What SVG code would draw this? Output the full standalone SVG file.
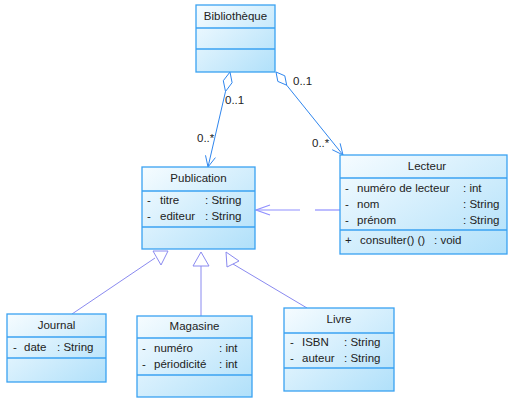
<svg xmlns="http://www.w3.org/2000/svg" width="508" height="398" viewBox="0 0 508 398">
<defs>
<linearGradient id="g" x1="0" y1="0" x2="1" y2="1">
<stop offset="0" stop-color="#f6fcff"/>
<stop offset="1" stop-color="#b0e0fa"/>
</linearGradient>
</defs>
<style>
.box{fill:url(#g);stroke:#3aa2f2;stroke-width:1.3}
.sep{stroke:#3aa2f2;stroke-width:1.3}
text{font-family:"Liberation Sans",Arial,sans-serif;font-size:11.5px;fill:#222}
.c{text-anchor:middle}
.agg{fill:none;stroke:#2f86ee;stroke-width:1}
.inh{fill:none;stroke:#8a8af0;stroke-width:1}
.dep{fill:none;stroke:#9090ff;stroke-width:1.2}
</style>
<rect width="508" height="398" fill="#fff"/>
<g id="connectors">
<!-- Bibliotheque to Publication -->
<polygon class="agg" points="230,72 232.1,82.7 225.5,91.5 223.3,80.7"/>
<line class="agg" x1="225.5" y1="91.5" x2="208" y2="167"/>
<polyline class="agg" points="215.4,157.6 208,167 205.5,155.3"/>
<!-- Bibliotheque to Lecteur -->
<polygon class="agg" points="276,72 284.8,75.8 286.7,85.2 277.8,81.4"/>
<line class="agg" x1="286.7" y1="85.2" x2="343" y2="155"/>
<polyline class="agg" points="340.1,143.3 343,155 332.2,149.7"/>
<!-- dependency -->
<line class="dep" x1="340" y1="210" x2="315" y2="210"/>
<line class="dep" x1="300" y1="210" x2="256" y2="210"/>
<polyline class="dep" points="270,205 256,210 270,215"/>
<!-- inheritance -->
<polygon class="inh" points="153,251 168,251 161,265"/>
<line class="inh" x1="72" y1="314" x2="155" y2="258"/>
<polygon class="inh" points="201,252 209,266 193,266"/>
<line class="inh" x1="201" y1="266" x2="201" y2="316"/>
<polygon class="inh" points="226,252 239,261 227,267"/>
<line class="inh" x1="233" y1="264" x2="307" y2="308"/>
<!-- multiplicities -->
<text x="225" y="104">0..1</text>
<text x="197" y="142">0..*</text>
<text x="293" y="85">0..1</text>
<text x="312" y="147">0..*</text>
</g>
<g id="Bibliotheque">
<rect class="box" x="196" y="5" width="79" height="67"/>
<line class="sep" x1="196" y1="28" x2="275" y2="28"/>
<line class="sep" x1="196" y1="49" x2="275" y2="49"/>
<text class="c" x="235.5" y="20">Bibliothèque</text>
</g>
<g id="Publication">
<rect class="box" x="142" y="167" width="113" height="82"/>
<line class="sep" x1="142" y1="191" x2="255" y2="191"/>
<line class="sep" x1="142" y1="227" x2="255" y2="227"/>
<text class="c" x="198.5" y="182">Publication</text>
<text x="147" y="204">-</text><text x="160" y="204">titre</text><text x="205" y="204">: String</text>
<text x="147" y="220">-</text><text x="160" y="220">editeur</text><text x="205" y="220">: String</text>
</g>
<g id="Lecteur">
<rect class="box" x="340" y="155" width="167" height="99"/>
<line class="sep" x1="340" y1="178" x2="507" y2="178"/>
<line class="sep" x1="340" y1="230" x2="507" y2="230"/>
<text class="c" x="427" y="170">Lecteur</text>
<text x="345" y="192">-</text><text x="357" y="192">numéro de lecteur</text><text x="463" y="192">: int</text>
<text x="345" y="208">-</text><text x="357" y="208">nom</text><text x="463" y="208">: String</text>
<text x="345" y="224">-</text><text x="357" y="224">prénom</text><text x="463" y="224">: String</text>
<text x="345" y="244">+</text><text x="360" y="244">consulter() ()</text><text x="434" y="244">: void</text>
</g>
<g id="Journal">
<rect class="box" x="7" y="314" width="99" height="68"/>
<line class="sep" x1="7" y1="337" x2="106" y2="337"/>
<line class="sep" x1="7" y1="358" x2="106" y2="358"/>
<text class="c" x="56.5" y="329">Journal</text>
<text x="13" y="351">-</text><text x="24" y="351">date</text><text x="57" y="351">: String</text>
</g>
<g id="Magasine">
<rect class="box" x="137" y="316" width="115" height="81"/>
<line class="sep" x1="137" y1="338" x2="252" y2="338"/>
<line class="sep" x1="137" y1="375" x2="252" y2="375"/>
<text class="c" x="194.5" y="330">Magasine</text>
<text x="142" y="352">-</text><text x="154" y="352">numéro</text><text x="219" y="352">: int</text>
<text x="142" y="368">-</text><text x="154" y="368">périodicité</text><text x="219" y="368">: int</text>
</g>
<g id="Livre">
<rect class="box" x="284" y="308" width="110" height="83"/>
<line class="sep" x1="284" y1="333" x2="394" y2="333"/>
<line class="sep" x1="284" y1="368" x2="394" y2="368"/>
<text class="c" x="339" y="323">Livre</text>
<text x="290" y="346">-</text><text x="302" y="346">ISBN</text><text x="344" y="346">: String</text>
<text x="290" y="362">-</text><text x="302" y="362">auteur</text><text x="344" y="362">: String</text>
</g>
</svg>
